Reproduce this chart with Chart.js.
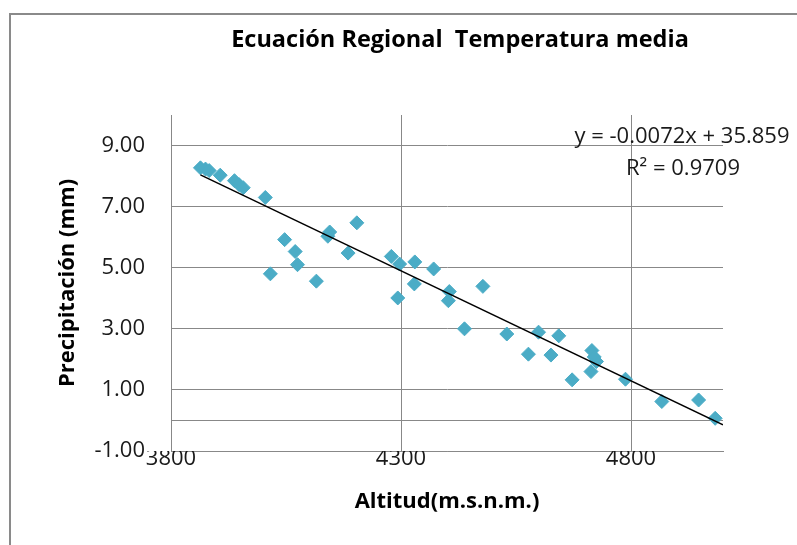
<!DOCTYPE html>
<html>
<head>
<meta charset="utf-8">
<script src="https://cdn.jsdelivr.net/npm/chart.js@4.4.1/dist/chart.umd.min.js"></script>
<style>
    html, body { margin: 0; padding: 0; background: #fff; overflow: hidden; }
    #wrap { position: relative; width: 797px; height: 545px; }
    #marco { position: absolute; left: 9px; top: 13px; width: 900px; height: 700px; border: 2px solid #8a8a8a; }
    canvas { position: absolute; left: 0; top: 0; }
</style>
</head>
<body>
<div id="wrap">
    <div id="marco"></div>
    <canvas id="grafico" width="797" height="545"></canvas>
</div>
<script>
// Datos: altitud (m.s.n.m.) y precipitación (mm) por estación
const altitud = [3864, 3875, 3883, 3907, 3938, 3948, 3957, 4005, 4016, 4047, 4070, 4075, 4116,
    4141, 4145, 4185, 4204, 4279, 4293, 4297, 4329, 4330, 4371, 4403, 4405, 4438, 4478, 4530,
    4577, 4599, 4626, 4643, 4672, 4713, 4715, 4720, 4725, 4788, 4867, 4947, 4983];
const precipitacion = [8.27, 8.23, 8.18, 8.03, 7.85, 7.72, 7.62, 7.30, 4.80, 5.92, 5.53, 5.10, 4.56,
    6.03, 6.17, 5.48, 6.47, 5.37, 4.01, 5.12, 4.47, 5.19, 4.96, 3.92, 4.22, 3.00, 4.39, 2.83,
    2.17, 2.89, 2.14, 2.77, 1.33, 1.60, 2.29, 2.08, 1.93, 1.35, 0.62, 0.67, 0.07];

// Línea de tendencia (regresión lineal)
const pendiente = -0.0072;
const intercepto = 35.859;
const r2 = 0.9709;

// Ejes
const xMin = 3800, xMax = 5000;
const xTicks = [3800, 4300, 4800];
const yMin = -1, yMax = 10;
const yTicks = [-1, 1, 3, 5, 7, 9];
const cruceEjeX = 0;

const puntos = altitud.map((x, i) => ({ x: x, y: precipitacion[i] }));
const xIni = Math.min(...altitud);
const tendencia = [xIni, xMax].map(x => ({ x: x, y: pendiente * x + intercepto }));

const fuente = "'Open Sans', 'Noto Sans', sans-serif";
const gris = '#888888';

// Título, ecuación y línea del eje horizontal en y = 0
const textosExtra = {
    id: 'textosExtra',
    beforeDatasetsDraw(chart) {
        const { ctx, chartArea, scales } = chart;
        const y0 = Math.round(scales.y.getPixelForValue(cruceEjeX)) + 0.5;
        ctx.save();
        ctx.strokeStyle = gris;
        ctx.lineWidth = 1;
        ctx.beginPath();
        ctx.moveTo(chartArea.left, y0);
        ctx.lineTo(chartArea.right, y0);
        ctx.stroke();
        ctx.restore();
    },
    afterDraw(chart) {
        const ctx = chart.ctx;
        ctx.save();
        ctx.textAlign = 'center';
        ctx.textBaseline = 'middle';
        ctx.fillStyle = '#000';
        ctx.font = 'bold 23.5px ' + fuente;
        ctx.fillText('Ecuación Regional  Temperatura media', 460, 40);

        ctx.fillStyle = '#1a1a1a';
        ctx.font = '22px ' + fuente;
        const signo = intercepto >= 0 ? ' + ' : ' - ';
        ctx.fillText('y = ' + pendiente.toFixed(4) + 'x' + signo + Math.abs(intercepto).toFixed(3), 682, 137);
        ctx.fillText('R² = ' + r2.toFixed(4), 683, 169);
        ctx.restore();
    }
};

const config = {
    type: 'scatter',
    data: {
        datasets: [
            {
                label: 'Tendencia',
                data: tendencia,
                showLine: true,
                borderColor: '#000000',
                borderWidth: 1.5,
                pointRadius: 0,
                fill: false,
                order: 0
            },
            {
                label: 'Precipitación',
                data: puntos,
                pointStyle: 'rectRot',
                pointRadius: 7,
                backgroundColor: '#4BACC6',
                borderColor: '#4BACC6',
                borderWidth: 1,
                order: 1
            }
        ]
    },
    options: {
        responsive: false,
        animation: false,
        devicePixelRatio: 1,
        layout: {
            padding: { top: 115, right: 74, left: 0, bottom: 0 }
        },
        plugins: {
            legend: { display: false },
            title: { display: false },
            tooltip: { enabled: false }
        },
        scales: {
            x: {
                type: 'linear',
                min: xMin,
                max: xMax,
                afterBuildTicks: scale => { scale.ticks = xTicks.map(v => ({ value: v })); },
                afterFit: scale => { scale.height = 94; },
                grid: { color: gris, lineWidth: 1, drawTicks: false },
                border: { display: true, color: gris },
                ticks: {
                    padding: -5,
                    color: '#1a1a1a',
                    font: { family: fuente, size: 22 },
                    callback: v => String(v)
                },
                title: {
                    display: true,
                    text: 'Altitud(m.s.n.m.)',
                    color: '#000',
                    font: { family: fuente, size: 22, weight: 'bold' },
                    padding: { top: 0, bottom: 30 }
                }
            },
            y: {
                type: 'linear',
                min: yMin,
                max: yMax,
                afterBuildTicks: scale => { scale.ticks = yTicks.map(v => ({ value: v })); },
                afterFit: scale => { scale.width = 171; },
                grid: { color: gris, lineWidth: 1, drawTicks: false },
                border: { display: true, color: gris },
                ticks: {
                    padding: 26,
                    color: '#1a1a1a',
                    font: { family: fuente, size: 22 },
                    callback: v => v.toFixed(2)
                },
                title: {
                    display: true,
                    text: 'Precipitación (mm)',
                    color: '#000',
                    font: { family: fuente, size: 22, weight: 'bold' },
                    padding: { top: 55, bottom: 0 }
                }
            }
        }
    },
    plugins: [textosExtra]
};

const grafico = new Chart(document.getElementById('grafico'), config);
</script>
</body>
</html>
